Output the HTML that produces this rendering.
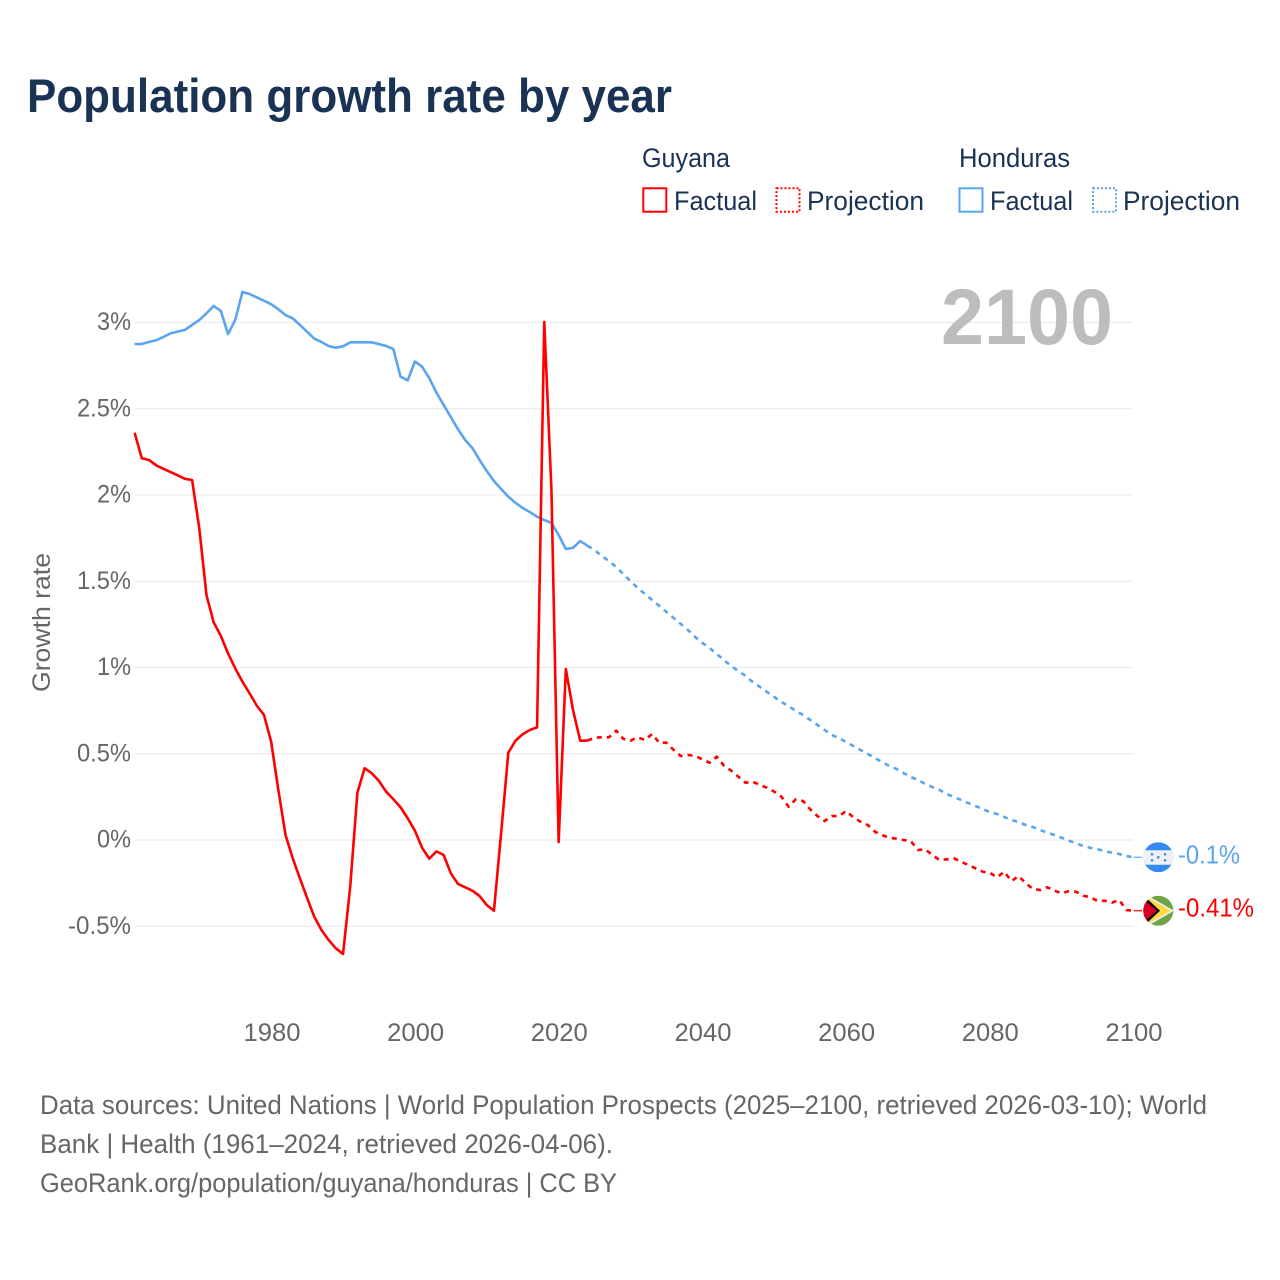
<!DOCTYPE html>
<html lang="en">
<head>
<meta charset="utf-8">
<title>Population growth rate by year</title>
<style>
html,body{margin:0;padding:0;background:#fff;}
svg{display:block;font-family:"Liberation Sans",sans-serif;}
.legend{font-size:27px;fill:#1a3355;}
.foot{font-size:27px;fill:#666;}
.tick{font-size:25px;fill:#666;}
</style>
</head>
<body>
<svg id="chart" width="1280" height="1280" viewBox="0 0 1280 1280" xmlns="http://www.w3.org/2000/svg">
  <defs>
    <clipPath id="clip-hn"><circle cx="1158.3" cy="0" r="15"/></clipPath>
    <clipPath id="clip-gy"><circle cx="1158.3" cy="0" r="15"/></clipPath>
  </defs>
  <text x="27" y="112" font-size="47" font-weight="700" fill="#1a3355" textLength="645" lengthAdjust="spacingAndGlyphs">Population growth rate by year</text>

  <g>
    <text class="legend" x="642" y="167" textLength="88" lengthAdjust="spacingAndGlyphs">Guyana</text>
    <rect x="643.3" y="188.3" width="23" height="23.4" fill="none" stroke="#ff0000" stroke-width="2"/>
    <text class="legend" x="674" y="210" textLength="83" lengthAdjust="spacingAndGlyphs">Factual</text>
    <rect x="776.5" y="188.3" width="23" height="23.4" fill="none" stroke="#ff0000" stroke-width="2" stroke-dasharray="2 2"/>
    <text class="legend" x="807" y="210" textLength="117" lengthAdjust="spacingAndGlyphs">Projection</text>
    <text class="legend" x="959" y="167" textLength="111" lengthAdjust="spacingAndGlyphs">Honduras</text>
    <rect x="959.5" y="188.3" width="23" height="23.4" fill="none" stroke="#5ba4ef" stroke-width="2"/>
    <text class="legend" x="990" y="210" textLength="83" lengthAdjust="spacingAndGlyphs">Factual</text>
    <rect x="1093" y="188.3" width="23" height="23.4" fill="none" stroke="#5ba4ef" stroke-width="2" stroke-dasharray="2 2"/>
    <text class="legend" x="1123" y="210" textLength="117" lengthAdjust="spacingAndGlyphs">Projection</text>
  </g>

  <g id="grid"></g>
  <g id="y-ticks"></g>
  <g id="x-ticks"></g>

  <text transform="translate(50,692) rotate(-90)" font-size="25" fill="#666" textLength="139" lengthAdjust="spacingAndGlyphs">Growth rate</text>
  <text x="941" y="344" font-size="79" font-weight="700" fill="#bdbdbd" textLength="172" lengthAdjust="spacingAndGlyphs">2100</text>

  <g id="series"></g>

  <g id="flag-hn">
    <g clip-path="url(#clip-hn)">
      <rect x="1143" y="-15" width="31" height="30" fill="#338af3"/>
      <rect x="1143" y="-7" width="31" height="14.5" fill="#f0f0f0"/>
      <g fill="#338af3">
        <circle cx="1158.3" cy="0" r="1.3"/>
        <circle cx="1152" cy="-3" r="1.3"/>
        <circle cx="1152" cy="3" r="1.3"/>
        <circle cx="1165" cy="-3" r="1.3"/>
        <circle cx="1165" cy="3" r="1.3"/>
      </g>
    </g>
  </g>
  <g id="flag-gy">
    <g clip-path="url(#clip-gy)">
      <rect x="1143" y="-15" width="31" height="30" fill="#6da544"/>
      <polygon points="1148,-15 1174,0 1148,15 1143,15 1143,-15" fill="#f0f0f0"/>
      <polygon points="1148,-13 1171,0 1148,13 1143,13 1143,-13" fill="#ffda44"/>
      <polygon points="1146,-13 1160,0 1146,13 1143,13 1143,-13" fill="#000"/>
      <polygon points="1144,-11 1157,0 1144,11 1143,11 1143,-11" fill="#d80027"/>
    </g>
  </g>
  <text id="end-hn" x="1178" font-size="26" fill="#5ba4ef" textLength="62" lengthAdjust="spacingAndGlyphs"></text>
  <text id="end-gy" x="1178" font-size="26" fill="#ff0000" textLength="76" lengthAdjust="spacingAndGlyphs"></text>

  <g>
    <text class="foot" x="40" y="1114" textLength="1167" lengthAdjust="spacingAndGlyphs">Data sources: United Nations | World Population Prospects (2025–2100, retrieved 2026-03-10); World</text>
    <text class="foot" x="40" y="1153" textLength="573" lengthAdjust="spacingAndGlyphs">Bank | Health (1961–2024, retrieved 2026-04-06).</text>
    <text class="foot" x="40" y="1192" textLength="577" lengthAdjust="spacingAndGlyphs">GeoRank.org/population/guyana/honduras | CC BY</text>
  </g>
</svg>
<script>
const factualStartYear = 1961;
const projectionStartYear = 2024;
const yTickValues = [3, 2.5, 2, 1.5, 1, 0.5, 0, -0.5];
const yTickLabels = ['3%', '2.5%', '2%', '1.5%', '1%', '0.5%', '0%', '-0.5%'];
const xTickYears = [1980, 2000, 2020, 2040, 2060, 2080, 2100];

const hondurasFactual = [
  2.875, 2.875, 2.887, 2.897, 2.916, 2.937, 2.947, 2.957, 2.986,
  3.014, 3.053, 3.096, 3.067, 2.933, 3.014, 3.177, 3.165, 3.146, 3.126,
  3.106, 3.077, 3.043, 3.024, 2.986, 2.947, 2.906, 2.887, 2.864, 2.854,
  2.862, 2.885, 2.885, 2.885, 2.885, 2.875, 2.864, 2.846, 2.686, 2.665,
  2.774, 2.744, 2.678, 2.593, 2.522, 2.452, 2.381, 2.319, 2.272, 2.203,
  2.139, 2.081, 2.035, 1.990, 1.954, 1.925, 1.901, 1.874, 1.855, 1.838,
  1.768, 1.687, 1.694, 1.733, 1.706
];
const hondurasProjection = [
  1.706, 1.681, 1.646, 1.617, 1.583, 1.542,
  1.501, 1.461, 1.426, 1.391, 1.357, 1.322, 1.287, 1.252, 1.217, 1.177,
  1.142, 1.113, 1.078, 1.043, 1.009, 0.980, 0.951, 0.916, 0.887, 0.858,
  0.829, 0.800, 0.777, 0.748, 0.725, 0.696, 0.667, 0.638, 0.609, 0.591,
  0.568, 0.545, 0.522, 0.499, 0.475, 0.452, 0.429, 0.412, 0.388, 0.365,
  0.348, 0.325, 0.307, 0.290, 0.267, 0.249, 0.232, 0.214, 0.197, 0.180,
  0.162, 0.151, 0.133, 0.116, 0.104, 0.087, 0.075, 0.058, 0.042, 0.029,
  0.013, -0.004, -0.019, -0.035, -0.046, -0.054, -0.064, -0.074, -0.081, -0.093,
  -0.1
];
const guyanaFactual = [
  2.361, 2.213, 2.203, 2.172, 2.152, 2.133, 2.114, 2.094, 2.087,
  1.807, 1.420, 1.262, 1.183, 1.082, 0.995, 0.918, 0.850, 0.779, 0.725,
  0.570, 0.290, 0.029, -0.106, -0.222, -0.336, -0.445, -0.522, -0.580, -0.628,
  -0.661, -0.271, 0.274, 0.416, 0.387, 0.342, 0.280, 0.236, 0.190, 0.126,
  0.054, -0.045, -0.108, -0.066, -0.087, -0.193, -0.255, -0.274, -0.294, -0.325,
  -0.377, -0.410, 0.041, 0.506, 0.576, 0.613, 0.638, 0.653, 3.003, 2.029,
  -0.012, 0.991, 0.754, 0.576, 0.576
];
const guyanaProjection = [
  0.576, 0.593, 0.595, 0.595, 0.634, 0.586,
  0.576, 0.595, 0.580, 0.614, 0.564, 0.564, 0.522, 0.487, 0.493, 0.487,
  0.468, 0.448, 0.483, 0.431, 0.402, 0.367, 0.332, 0.338, 0.319, 0.303,
  0.280, 0.251, 0.193, 0.236, 0.226, 0.178, 0.139, 0.110, 0.139, 0.139,
  0.168, 0.132, 0.106, 0.087, 0.048, 0.029, 0.013, 0.008, 0, -0.006,
  -0.058, -0.054, -0.087, -0.116, -0.112, -0.106, -0.126, -0.145, -0.164, -0.184,
  -0.190, -0.216, -0.184, -0.238, -0.209, -0.251, -0.284, -0.290, -0.274, -0.294,
  -0.309, -0.296, -0.300, -0.323, -0.332, -0.354, -0.352, -0.363, -0.348, -0.406,
  -0.41
];
const hondurasEndValue = -0.1;
const guyanaEndValue = -0.41;

const NS = 'http://www.w3.org/2000/svg';
function xScale(year) { return 134.6 + (year - 1961) * (1133.6 - 134.6) / (2100 - 1961); }
function tickX(year) { return 272 + (year - 1980) * 7.183; }
function yScale(v) { return 840 - v * 172.5; }
function svgEl(tag) { return document.createElementNS(NS, tag); }
function pathFor(values, startYear) {
  return values.map(function (v, i) {
    return (i ? 'L' : 'M') + xScale(startYear + i).toFixed(2) + ' ' + yScale(v).toFixed(2);
  }).join(' ');
}

const gridGroup = document.getElementById('grid');
const yTickGroup = document.getElementById('y-ticks');
const xTickGroup = document.getElementById('x-ticks');
const seriesGroup = document.getElementById('series');

yTickValues.forEach(function (v, i) {
  const line = svgEl('line');
  
  
  line.setAttribute('x1', 135);
  line.setAttribute('x2', 1133);
  line.setAttribute('y1', yScale(v));
  line.setAttribute('y2', yScale(v));
  line.setAttribute('stroke', '#ececec');
  line.setAttribute('stroke-width', 1.3);
  gridGroup.appendChild(line);

  const label = svgEl('text');
  
  
  const text = yTickLabels[i];
  const w = text.length === 2 ? 34 : (text.length === 4 ? 54 : 63);
  label.setAttribute('class', 'tick');
  label.setAttribute('x', 131 - w);
  label.setAttribute('y', yScale(v) + 7.5);
  label.setAttribute('textLength', w);
  label.setAttribute('lengthAdjust', 'spacingAndGlyphs');
  label.textContent = text;
  yTickGroup.appendChild(label);
});

xTickYears.forEach(function (year) {
  const label = svgEl('text');
  
  
  label.setAttribute('class', 'tick');
  label.setAttribute('x', tickX(year) - 28.5);
  label.setAttribute('y', 1041);
  label.setAttribute('textLength', 57);
  label.setAttribute('lengthAdjust', 'spacingAndGlyphs');
  label.textContent = String(year);
  xTickGroup.appendChild(label);
});

function drawLine(values, startYear, color, dashed, name) {
  const p = svgEl('path');
  
  
  p.setAttribute('d', pathFor(values, startYear));
  p.setAttribute('fill', 'none');
  p.setAttribute('stroke', color);
  p.setAttribute('stroke-width', 2.6);
  p.setAttribute('stroke-linejoin', 'round');
  if (dashed) { p.setAttribute('stroke-dasharray', '5 5'); }
  seriesGroup.appendChild(p);
}
drawLine(hondurasFactual, factualStartYear, '#5ba4ef', false, 'honduras-factual-line');
drawLine(hondurasProjection, projectionStartYear, '#5ba4ef', true, 'honduras-projection-line');
drawLine(guyanaFactual, factualStartYear, '#ff0000', false, 'guyana-factual-line');
drawLine(guyanaProjection, projectionStartYear, '#ff0000', true, 'guyana-projection-line');

function placeEnd(values, endValue, flagId, labelId, color, name) {
  const last = values[values.length - 1];
  const y = yScale(last);
  const stub = svgEl('line');
  
  
  stub.setAttribute('x1', xScale(2100));
  stub.setAttribute('x2', 1142);
  stub.setAttribute('y1', y);
  stub.setAttribute('y2', y);
  stub.setAttribute('stroke', color);
  stub.setAttribute('stroke-width', 1.2);
  seriesGroup.appendChild(stub);
  document.getElementById(flagId).setAttribute('transform', 'translate(0,' + y + ')');
  const label = document.getElementById(labelId);
  label.setAttribute('y', y + 6);
  label.textContent = endValue + '%';
}
placeEnd(hondurasProjection, hondurasEndValue, 'flag-hn', 'end-hn', '#5ba4ef', 'honduras-end-connector');
placeEnd(guyanaProjection, guyanaEndValue, 'flag-gy', 'end-gy', '#ff0000', 'guyana-end-connector');
</script>
</body>
</html>
